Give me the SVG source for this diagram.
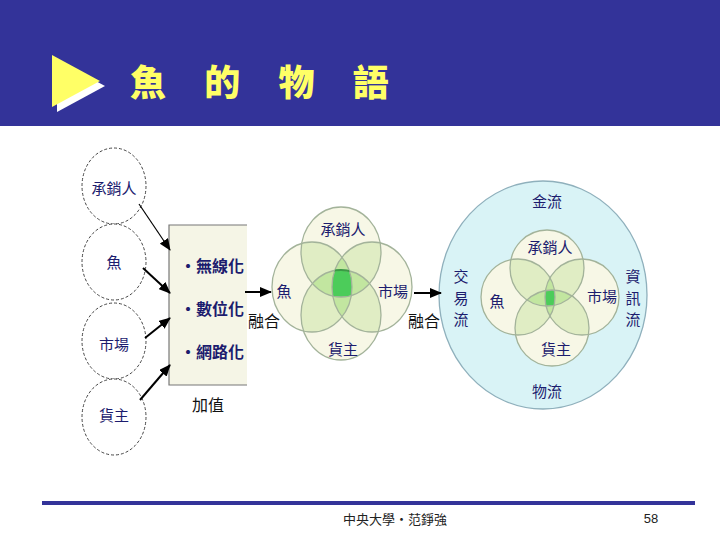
<svg xmlns="http://www.w3.org/2000/svg" xmlns:xlink="http://www.w3.org/1999/xlink" width="720" height="540" viewBox="0 0 720 540">
<style>
.lbl{font-family:"Noto Sans CJK TC","Noto Sans CJK SC",sans-serif;font-size:15px;fill:#1c1c6e;text-anchor:middle;dominant-baseline:central}
.blk{font-family:"Noto Sans CJK TC","Noto Sans CJK SC",sans-serif;font-size:16px;fill:#111;text-anchor:middle;dominant-baseline:central}
.box{font-family:"Noto Sans CJK TC","Noto Sans CJK SC",sans-serif;font-size:16px;font-weight:bold;fill:#1c1c6e;dominant-baseline:central}
.src{fill:#fff;stroke:#444;stroke-width:1;stroke-dasharray:3 2}
.cream{fill:#f7f7e6}
.pair{fill:#e0edc4}
.tri{fill:#c2e6a0}
.quad{fill:#4ccc5a}
.ring{fill:none;stroke:#a3b39a;stroke-width:1.3}
.arr{stroke:#000;stroke-width:2;fill:none;marker-end:url(#ah)}
</style>
<defs>
<marker id="ah" markerWidth="12" markerHeight="10" refX="11" refY="5" orient="auto" markerUnits="userSpaceOnUse">
<path d="M0,0 L12,5 L0,10 Z" fill="#000"/>
</marker>
<ellipse id="aT" cx="341" cy="252" rx="40" ry="45"/>
<ellipse id="aL" cx="312" cy="287" rx="40" ry="45"/>
<ellipse id="aR" cx="372" cy="287" rx="40" ry="45"/>
<ellipse id="aB" cx="341" cy="315" rx="40" ry="45"/>
<clipPath id="caT"><use xlink:href="#aT"/></clipPath>
<clipPath id="caL"><use xlink:href="#aL"/></clipPath>
<clipPath id="caR"><use xlink:href="#aR"/></clipPath>
<clipPath id="caB"><use xlink:href="#aB"/></clipPath>
<ellipse id="bT" cx="547" cy="268" rx="37" ry="38"/>
<ellipse id="bL" cx="518" cy="297" rx="37" ry="38"/>
<ellipse id="bR" cx="582" cy="297" rx="37" ry="38"/>
<ellipse id="bB" cx="552" cy="328" rx="37" ry="38"/>
<clipPath id="cbT"><use xlink:href="#bT"/></clipPath>
<clipPath id="cbL"><use xlink:href="#bL"/></clipPath>
<clipPath id="cbR"><use xlink:href="#bR"/></clipPath>
<clipPath id="cbB"><use xlink:href="#bB"/></clipPath>
</defs>

<rect width="720" height="540" fill="#fff"/>
<g id="header">
<rect x="0" y="0" width="720" height="126" fill="#333399"/>
<polygon points="57,60 105,86 57,112" fill="#fff"/>
<polygon points="52,55 100,81 52,107" fill="#ffff66"/>
<text x="130" y="80" font-family="'Noto Sans CJK TC','Noto Sans CJK SC',sans-serif" font-size="36" font-weight="900" fill="#ffff66" letter-spacing="15" dominant-baseline="central">魚 的 物 語</text>
</g>

<g id="src-underwriter"><ellipse class="src" cx="114" cy="186" rx="32" ry="38"/><text class="lbl" x="114" y="187" font-size="16">承銷人</text></g>
<g id="src-fish"><ellipse class="src" cx="114" cy="262" rx="32" ry="38"/><text class="lbl" x="114" y="261" font-size="16">魚</text></g>
<g id="src-market"><ellipse class="src" cx="114" cy="341" rx="32" ry="38"/><text class="lbl" x="114" y="343" font-size="16">市場</text></g>
<g id="src-shipper"><ellipse class="src" cx="114" cy="417" rx="32" ry="38"/><text class="lbl" x="114" y="414" font-size="16">貨主</text></g>

<g id="valueadd">
<rect x="169" y="225" width="78" height="160" fill="#f5f5e6"/>
<path d="M247,225 H169 V385 H247" fill="none" stroke="#777" stroke-width="1.2"/>
<text class="box" x="180" y="265">・無線化</text>
<text class="box" x="180" y="308">・數位化</text>
<text class="box" x="180" y="351">・網路化</text>
<text class="blk" x="208" y="404" font-size="17">加值</text>
</g>

<g id="venn-fusion">
<use xlink:href="#aT" class="cream"/><use xlink:href="#aL" class="cream"/><use xlink:href="#aR" class="cream"/><use xlink:href="#aB" class="cream"/>
<g clip-path="url(#caT)"><use xlink:href="#aL" class="pair"/><use xlink:href="#aR" class="pair"/><use xlink:href="#aB" class="pair"/></g>
<g clip-path="url(#caL)"><use xlink:href="#aR" class="pair"/><use xlink:href="#aB" class="pair"/></g>
<g clip-path="url(#caR)"><use xlink:href="#aB" class="pair"/></g>
<g clip-path="url(#caT)"><g clip-path="url(#caL)"><use xlink:href="#aR" class="tri"/><use xlink:href="#aB" class="tri"/></g><g clip-path="url(#caR)"><use xlink:href="#aB" class="tri"/></g></g>
<g clip-path="url(#caL)"><g clip-path="url(#caR)"><use xlink:href="#aB" class="tri"/></g></g>
<g clip-path="url(#caT)"><g clip-path="url(#caL)"><g clip-path="url(#caR)"><use xlink:href="#aB" class="quad"/></g></g></g>
<use xlink:href="#aT" class="ring"/><use xlink:href="#aL" class="ring"/><use xlink:href="#aR" class="ring"/><use xlink:href="#aB" class="ring"/>
<g clip-path="url(#caT)"><g clip-path="url(#caL)"><g clip-path="url(#caR)"><use xlink:href="#aB" fill="none" stroke="#3a9a44" stroke-width="2"/></g></g></g>
<text class="lbl" x="343" y="228">承銷人</text>
<text class="lbl" x="284" y="290">魚</text>
<text class="lbl" x="393" y="290">市場</text>
<text class="lbl" x="343" y="348">貨主</text>
<text class="blk" x="264" y="320">融合</text>
<text class="blk" x="424" y="320">融合</text>
</g>

<g id="venn-flows">
<ellipse cx="543" cy="295" rx="104" ry="114" fill="#d9f3f6" stroke="#8fb0bc" stroke-width="1.3"/>
<use xlink:href="#bT" class="cream"/><use xlink:href="#bL" class="cream"/><use xlink:href="#bR" class="cream"/><use xlink:href="#bB" class="cream"/>
<g clip-path="url(#cbT)"><use xlink:href="#bL" class="pair"/><use xlink:href="#bR" class="pair"/><use xlink:href="#bB" class="pair"/></g>
<g clip-path="url(#cbL)"><use xlink:href="#bR" class="pair"/><use xlink:href="#bB" class="pair"/></g>
<g clip-path="url(#cbR)"><use xlink:href="#bB" class="pair"/></g>
<g clip-path="url(#cbT)"><g clip-path="url(#cbL)"><use xlink:href="#bR" class="tri"/><use xlink:href="#bB" class="tri"/></g><g clip-path="url(#cbR)"><use xlink:href="#bB" class="tri"/></g></g>
<g clip-path="url(#cbL)"><g clip-path="url(#cbR)"><use xlink:href="#bB" class="tri"/></g></g>
<g clip-path="url(#cbT)"><g clip-path="url(#cbL)"><g clip-path="url(#cbR)"><use xlink:href="#bB" class="quad"/></g></g></g>
<use xlink:href="#bT" class="ring"/><use xlink:href="#bL" class="ring"/><use xlink:href="#bR" class="ring"/><use xlink:href="#bB" class="ring"/>
<text class="lbl" x="547" y="200">金流</text>
<text class="lbl" x="547" y="390">物流</text>
<text class="lbl" x="550" y="246">承銷人</text>
<text class="lbl" x="497" y="300">魚</text>
<text class="lbl" x="602" y="295">市場</text>
<text class="lbl" x="556" y="348">貨主</text>
<text class="lbl" x="461" y="275">交</text><text class="lbl" x="461" y="297">易</text><text class="lbl" x="461" y="318">流</text>
<text class="lbl" x="633" y="275">資</text><text class="lbl" x="633" y="297">訊</text><text class="lbl" x="633" y="318">流</text>
</g>

<g id="connectors">
<line x1="139" y1="204" x2="170" y2="250" stroke="#000" stroke-width="1.2" marker-end="url(#ah)"/>
<line class="arr" x1="143" y1="268" x2="170" y2="293"/>
<line class="arr" x1="145" y1="338" x2="170" y2="318"/>
<line class="arr" x1="140" y1="400" x2="170" y2="365"/>
<line class="arr" x1="245" y1="292" x2="271" y2="292"/>
<line class="arr" x1="414" y1="293" x2="441" y2="293"/>
</g>

<g id="footer">
<line x1="42" y1="503" x2="695" y2="503" stroke="#333399" stroke-width="4"/>
<text x="395" y="518" font-family="'Noto Sans CJK TC','Noto Sans CJK SC',sans-serif" font-size="13" fill="#222" text-anchor="middle" dominant-baseline="central">中央大學・范錚強</text>
<text x="651" y="518" font-family="'Liberation Sans',sans-serif" font-size="13" fill="#222" text-anchor="middle" dominant-baseline="central">58</text>
</g>
</svg>
